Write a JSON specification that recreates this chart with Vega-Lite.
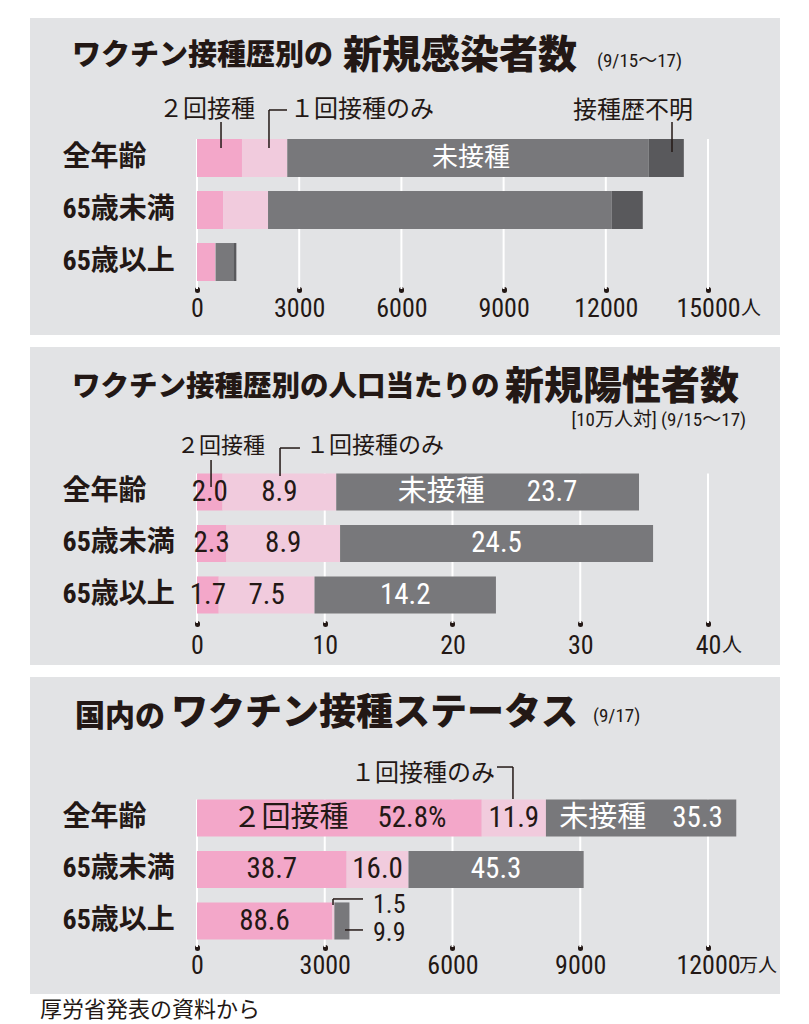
{
  "$schema": "https://vega.github.io/schema/vega-lite/v6.json",
  "padding": {"left": 30, "top": 18, "right": 0, "bottom": 8},
  "background": "#ffffff",
  "config": {"view": {"stroke": null}, "font": "Noto Sans CJK JP"},
  "title": {"text": "厚労省発表の資料から", "orient": "bottom", "anchor": "start", "fontSize": 22, "font": "Noto Sans CJK JP", "fontWeight": "normal", "color": "#231815", "offset": 6, "dx": 10},
  "spacing": 12,
  "vconcat": [
    {
      "width": 750, "height": 317,
      "view": {"fill": "#e2e3e5", "stroke": null},
      "layer": [
        {
          "data": {"values": [{"t": 0}, {"t": 3000}, {"t": 6000}, {"t": 9000}, {"t": 12000}, {"t": 15000}]},
          "mark": {"type": "rule", "color": "#ffffff", "strokeWidth": 2, "yOffset": -19, "y2Offset": 27},
          "encoding": {
            "x": {"field": "t", "type": "quantitative", "title": null,
              "scale": {"domain": [-4902, 17113], "nice": false, "zero": false},
              "axis": {"values": [0, 3000, 6000, 9000, 12000, 15000], "format": "d", "grid": false, "domain": false, "ticks": true, "tickSize": 1, "tickWidth": 5, "tickCap": "round", "tickColor": "#231815", "labelFont": "Roboto Condensed, Noto Sans CJK JP", "labelFontSize": 26, "labelColor": "#231815", "labelPadding": 5, "offset": -46, "title": null, "labelFlush": false, "labelOverlap": false}},
            "y": {"datum": "全年齢", "type": "nominal", "title": null,
              "scale": {"domain": ["title", "label", "全年齢", "65歳未満", "65歳以上"], "range": [17, 263], "paddingInner": 0.27, "paddingOuter": 0},
              "axis": {"orient": "left", "offset": -32, "domain": false, "ticks": false, "tickSize": 0, "labelPadding": 0, "labelAlign": "left", "labelFont": "Roboto Condensed, Noto Sans CJK JP", "labelFontSize": 28, "labelFontWeight": "bold", "labelColor": "#231815", "labelExpr": "datum.value == 'title' || datum.value == 'label' ? '' : datum.label", "title": null, "labelLimit": 0}},
            "y2": {"datum": "65歳以上"}
          }
        },
        {
          "data": {"values": [
            {"row": "全年齢", "s": "2回接種", "o": 1, "v": 1320},
            {"row": "全年齢", "s": "1回接種のみ", "o": 2, "v": 1330},
            {"row": "全年齢", "s": "未接種", "o": 3, "v": 10610},
            {"row": "全年齢", "s": "接種歴不明", "o": 4, "v": 1030},
            {"row": "65歳未満", "s": "2回接種", "o": 1, "v": 765},
            {"row": "65歳未満", "s": "1回接種のみ", "o": 2, "v": 1320},
            {"row": "65歳未満", "s": "未接種", "o": 3, "v": 10090},
            {"row": "65歳未満", "s": "接種歴不明", "o": 4, "v": 910},
            {"row": "65歳以上", "s": "2回接種", "o": 1, "v": 530},
            {"row": "65歳以上", "s": "1回接種のみ", "o": 2, "v": 15},
            {"row": "65歳以上", "s": "未接種", "o": 3, "v": 520},
            {"row": "65歳以上", "s": "接種歴不明", "o": 4, "v": 90}
          ]},
          "mark": {"type": "bar"},
          "encoding": {
            "x": {"field": "v", "type": "quantitative", "stack": "zero", "title": null},
            "y": {"field": "row", "type": "nominal", "title": null},
            "color": {"field": "s", "type": "nominal", "legend": null, "scale": {"domain": ["2回接種", "1回接種のみ", "未接種", "接種歴不明"], "range": ["#f3a7c9", "#f1cbdd", "#78787b", "#59595c"]}},
            "order": {"field": "o", "type": "quantitative"}
          }
        },
        {
          "data": {"values": [{"t": "ワクチン接種歴別の"}]},
          "mark": {"type": "text", "align": "left", "baseline": "middle", "font": "Noto Sans CJK JP", "fontSize": 29, "fontWeight": 900, "color": "#231815", "dy": 2},
          "encoding": {"x": {"datum": -3669}, "y": {"datum": "title"}, "text": {"field": "t"}}
        },
        {
          "data": {"values": [{"t": "新規感染者数"}]},
          "mark": {"type": "text", "align": "left", "baseline": "middle", "font": "Noto Sans CJK JP", "fontSize": 39, "fontWeight": 900, "color": "#231815", "dy": 2},
          "encoding": {"x": {"datum": 4286}, "y": {"datum": "title"}, "text": {"field": "t"}}
        },
        {
          "data": {"values": [{"t": "(9/15～17)"}]},
          "mark": {"type": "text", "align": "left", "baseline": "middle", "font": "Roboto Condensed, Noto Sans CJK JP", "fontSize": 19, "color": "#231815", "dy": 7},
          "encoding": {"x": {"datum": 11742}, "y": {"datum": "title"}, "text": {"field": "t"}}
        },
        {
          "data": {"values": [{"t": "２回接種"}]},
          "mark": {"type": "text", "align": "center", "baseline": "middle", "font": "Noto Sans CJK JP", "fontSize": 24, "color": "#231815", "dy": 4},
          "encoding": {"x": {"datum": 294}, "y": {"datum": "label"}, "text": {"field": "t"}}
        },
        {
          "data": {"values": [{"t": "１回接種のみ"}]},
          "mark": {"type": "text", "align": "left", "baseline": "middle", "font": "Noto Sans CJK JP", "fontSize": 24, "color": "#231815", "dy": 4},
          "encoding": {"x": {"datum": 2730}, "y": {"datum": "label"}, "text": {"field": "t"}}
        },
        {
          "data": {"values": [{"t": "接種歴不明"}]},
          "mark": {"type": "text", "align": "center", "baseline": "middle", "font": "Noto Sans CJK JP", "fontSize": 24, "color": "#231815", "dy": 5},
          "encoding": {"x": {"datum": 12798}, "y": {"datum": "label"}, "text": {"field": "t"}}
        },
        {
          "data": {"values": [{"t": "未接種"}]},
          "mark": {"type": "text", "align": "center", "baseline": "middle", "font": "Noto Sans CJK JP", "fontSize": 26, "color": "#ffffff"},
          "encoding": {"x": {"datum": 8043}, "y": {"datum": "全年齢"}, "text": {"field": "t"}}
        },
        {
          "data": {"values": [{"t": "人"}]},
          "mark": {"type": "text", "align": "left", "baseline": "middle", "font": "Noto Sans CJK JP", "fontSize": 20, "color": "#231815", "dx": 33, "dy": 47},
          "encoding": {"x": {"datum": 15000}, "y": {"datum": "65歳以上"}, "text": {"field": "t"}}
        },
        {
          "data": {"values": [{}]},
          "mark": {"type": "rule", "color": "#231815", "strokeWidth": 1.5, "yOffset": 16, "y2Offset": -10},
          "encoding": {"x": {"datum": 705}, "y": {"datum": "label"}, "y2": {"datum": "全年齢"}}
        },
        {
          "data": {"values": [{}]},
          "mark": {"type": "rule", "color": "#231815", "strokeWidth": 1.5, "yOffset": 4, "y2Offset": -10},
          "encoding": {"x": {"datum": 2113}, "y": {"datum": "label"}, "y2": {"datum": "全年齢"}}
        },
        {
          "data": {"values": [{}]},
          "mark": {"type": "rule", "color": "#231815", "strokeWidth": 1.5, "yOffset": 4},
          "encoding": {"x": {"datum": 2113}, "x2": {"datum": 2642}, "y": {"datum": "label"}}
        },
        {
          "data": {"values": [{}]},
          "mark": {"type": "rule", "color": "#231815", "strokeWidth": 1.5, "yOffset": 16, "y2Offset": -6},
          "encoding": {"x": {"datum": 13943}, "y": {"datum": "label"}, "y2": {"datum": "全年齢"}}
        }
      ]
    },
    {
      "width": 750, "height": 318,
      "view": {"fill": "#e2e3e5", "stroke": null},
      "layer": [
        {
          "data": {"values": [{"t": 0}, {"t": 10}, {"t": 20}, {"t": 30}, {"t": 40}]},
          "mark": {"type": "rule", "color": "#ffffff", "strokeWidth": 2, "yOffset": -18.5, "y2Offset": 28},
          "encoding": {
            "x": {"field": "t", "type": "quantitative", "title": null,
              "scale": {"domain": [-13.072, 45.636], "nice": false, "zero": false},
              "axis": {"values": [0, 10, 20, 30, 40], "format": "d", "grid": false, "domain": false, "ticks": true, "tickSize": 1, "tickWidth": 5, "tickCap": "round", "tickColor": "#231815", "labelFont": "Roboto Condensed, Noto Sans CJK JP", "labelFontSize": 26, "labelColor": "#231815", "labelPadding": 8, "offset": -42, "title": null, "labelFlush": false, "labelOverlap": false}},
            "y": {"datum": "全年齢", "type": "nominal", "title": null,
              "scale": {"domain": ["title", "label", "全年齢", "65歳未満", "65歳以上"], "range": [23.5, 266.5], "paddingInner": 0.28, "paddingOuter": 0},
              "axis": {"orient": "left", "offset": -32, "domain": false, "ticks": false, "tickSize": 0, "labelPadding": 0, "labelAlign": "left", "labelFont": "Roboto Condensed, Noto Sans CJK JP", "labelFontSize": 28, "labelFontWeight": "bold", "labelColor": "#231815", "labelExpr": "datum.value == 'title' || datum.value == 'label' ? '' : datum.label", "title": null, "labelLimit": 0}},
            "y2": {"datum": "65歳以上"}
          }
        },
        {
          "data": {"values": [
            {"row": "全年齢", "s": "2回接種", "o": 1, "v": 2.0, "lab": "2.0"},
            {"row": "全年齢", "s": "1回接種のみ", "o": 2, "v": 8.9, "lab": "8.9"},
            {"row": "全年齢", "s": "未接種", "o": 3, "v": 23.7, "lab": "未接種　\u200223.7"},
            {"row": "65歳未満", "s": "2回接種", "o": 1, "v": 2.3, "lab": "2.3"},
            {"row": "65歳未満", "s": "1回接種のみ", "o": 2, "v": 8.9, "lab": "8.9"},
            {"row": "65歳未満", "s": "未接種", "o": 3, "v": 24.5, "lab": "24.5"},
            {"row": "65歳以上", "s": "2回接種", "o": 1, "v": 1.7, "lab": "1.7"},
            {"row": "65歳以上", "s": "1回接種のみ", "o": 2, "v": 7.5, "lab": "7.5"},
            {"row": "65歳以上", "s": "未接種", "o": 3, "v": 14.2, "lab": "14.2"}
          ]},
          "layer": [
            {
              "mark": {"type": "bar"},
              "encoding": {
                "x": {"field": "v", "type": "quantitative", "stack": "zero", "title": null},
                "y": {"field": "row", "type": "nominal", "title": null},
                "color": {"field": "s", "type": "nominal", "legend": null, "scale": {"domain": ["2回接種", "1回接種のみ", "未接種"], "range": ["#f3a7c9", "#f1cbdd", "#78787b"]}},
                "order": {"field": "o", "type": "quantitative"}
              }
            },
            {
              "mark": {"type": "text", "align": "center", "baseline": "middle", "font": "Roboto Condensed, Noto Sans CJK JP", "fontSize": 29},
              "encoding": {
                "x": {"field": "v", "type": "quantitative", "stack": "zero", "bandPosition": 0.5, "title": null},
                "y": {"field": "row", "type": "nominal", "title": null},
                "detail": {"field": "s"},
                "text": {"field": "lab"},
                "color": {"condition": {"test": "datum.s == '未接種'", "value": "#ffffff"}, "value": "#231815"},
                "order": {"field": "o", "type": "quantitative"}
              }
            }
          ]
        },
        {
          "data": {"values": [{"t": "ワクチン接種歴別の人口当たりの"}]},
          "mark": {"type": "text", "align": "left", "baseline": "middle", "font": "Noto Sans CJK JP", "fontSize": 28.5, "fontWeight": 900, "color": "#231815", "dy": -2},
          "encoding": {"x": {"datum": -9.785}, "y": {"datum": "title"}, "text": {"field": "t"}}
        },
        {
          "data": {"values": [{"t": "新規陽性者数"}]},
          "mark": {"type": "text", "align": "left", "baseline": "middle", "font": "Noto Sans CJK JP", "fontSize": 39, "fontWeight": 900, "color": "#231815", "dy": -2},
          "encoding": {"x": {"datum": 24.11}, "y": {"datum": "title"}, "text": {"field": "t"}}
        },
        {
          "data": {"values": [{"t": "[10万人対] (9/15～17)"}]},
          "mark": {"type": "text", "align": "right", "baseline": "middle", "font": "Roboto Condensed, Noto Sans CJK JP", "fontSize": 19, "color": "#231815", "dy": 31},
          "encoding": {"x": {"datum": 42.98}, "y": {"datum": "title"}, "text": {"field": "t"}}
        },
        {
          "data": {"values": [{"t": "２回接種"}]},
          "mark": {"type": "text", "align": "center", "baseline": "middle", "font": "Noto Sans CJK JP", "fontSize": 22, "color": "#231815", "dy": 5.5},
          "encoding": {"x": {"datum": 1.88}, "y": {"datum": "label"}, "text": {"field": "t"}}
        },
        {
          "data": {"values": [{"t": "１回接種のみ"}]},
          "mark": {"type": "text", "align": "left", "baseline": "middle", "font": "Noto Sans CJK JP", "fontSize": 23, "color": "#231815", "dy": 5.5},
          "encoding": {"x": {"datum": 8.53}, "y": {"datum": "label"}, "text": {"field": "t"}}
        },
        {
          "data": {"values": [{"t": "人"}]},
          "mark": {"type": "text", "align": "left", "baseline": "middle", "font": "Noto Sans CJK JP", "fontSize": 20, "color": "#231815", "dx": 14, "dy": 51},
          "encoding": {"x": {"datum": 40}, "y": {"datum": "65歳以上"}, "text": {"field": "t"}}
        },
        {
          "data": {"values": [{}]},
          "mark": {"type": "rule", "color": "#231815", "strokeWidth": 1.5, "yOffset": 19.5, "y2Offset": -5},
          "encoding": {"x": {"datum": 1.10}, "y": {"datum": "label"}, "y2": {"datum": "全年齢"}}
        },
        {
          "data": {"values": [{}]},
          "mark": {"type": "rule", "color": "#231815", "strokeWidth": 1.5, "yOffset": 7.5, "y2Offset": -16},
          "encoding": {"x": {"datum": 6.5}, "y": {"datum": "label"}, "y2": {"datum": "全年齢"}}
        },
        {
          "data": {"values": [{}]},
          "mark": {"type": "rule", "color": "#231815", "strokeWidth": 1.5, "yOffset": 7.5},
          "encoding": {"x": {"datum": 6.5}, "x2": {"datum": 8.06}, "y": {"datum": "label"}}
        }
      ]
    },
    {
      "width": 750, "height": 317,
      "view": {"fill": "#e2e3e5", "stroke": null},
      "layer": [
        {
          "data": {"values": [{"t": 0}, {"t": 3000}, {"t": 6000}, {"t": 9000}, {"t": 12000}]},
          "mark": {"type": "rule", "color": "#ffffff", "strokeWidth": 2, "yOffset": -18.5, "y2Offset": 26},
          "encoding": {
            "x": {"field": "t", "type": "quantitative", "title": null,
              "scale": {"domain": [-3921.7, 13690.8], "nice": false, "zero": false},
              "axis": {"values": [0, 3000, 6000, 9000, 12000], "format": "d", "grid": false, "domain": false, "ticks": true, "tickSize": 1, "tickWidth": 5, "tickCap": "round", "tickColor": "#231815", "labelFont": "Roboto Condensed, Noto Sans CJK JP", "labelFontSize": 26, "labelColor": "#231815", "labelPadding": 4, "offset": -47, "title": null, "labelFlush": false, "labelOverlap": false}},
            "y": {"datum": "全年齢", "type": "nominal", "title": null,
              "scale": {"domain": ["title", "label", "全年齢", "65歳未満", "65歳以上"], "range": [19.5, 262.5], "paddingInner": 0.28, "paddingOuter": 0},
              "axis": {"orient": "left", "offset": -32, "domain": false, "ticks": false, "tickSize": 0, "labelPadding": 0, "labelAlign": "left", "labelFont": "Roboto Condensed, Noto Sans CJK JP", "labelFontSize": 28, "labelFontWeight": "bold", "labelColor": "#231815", "labelExpr": "datum.value == 'title' || datum.value == 'label' ? '' : datum.label", "title": null, "labelLimit": 0}},
            "y2": {"datum": "65歳以上"}
          }
        },
        {
          "data": {"values": [
            {"row": "全年齢", "s": "2回接種", "o": 1, "v": 6687, "lab": "２回接種　52.8%"},
            {"row": "全年齢", "s": "1回接種のみ", "o": 2, "v": 1507, "lab": "11.9"},
            {"row": "全年齢", "s": "未接種", "o": 3, "v": 4470, "lab": "未接種\u2002\u200235.3"},
            {"row": "65歳未満", "s": "2回接種", "o": 1, "v": 3514, "lab": "38.7"},
            {"row": "65歳未満", "s": "1回接種のみ", "o": 2, "v": 1453, "lab": "16.0"},
            {"row": "65歳未満", "s": "未接種", "o": 3, "v": 4113, "lab": "45.3"},
            {"row": "65歳以上", "s": "2回接種", "o": 1, "v": 3172, "lab": "88.6"},
            {"row": "65歳以上", "s": "1回接種のみ", "o": 2, "v": 54, "lab": ""},
            {"row": "65歳以上", "s": "未接種", "o": 3, "v": 354, "lab": ""}
          ]},
          "layer": [
            {
              "mark": {"type": "bar"},
              "encoding": {
                "x": {"field": "v", "type": "quantitative", "stack": "zero", "title": null},
                "y": {"field": "row", "type": "nominal", "title": null},
                "color": {"field": "s", "type": "nominal", "legend": null, "scale": {"domain": ["2回接種", "1回接種のみ", "未接種"], "range": ["#f3a7c9", "#f1cbdd", "#78787b"]}},
                "order": {"field": "o", "type": "quantitative"}
              }
            },
            {
              "mark": {"type": "text", "align": "center", "baseline": "middle", "font": "Roboto Condensed, Noto Sans CJK JP", "fontSize": 29},
              "encoding": {
                "x": {"field": "v", "type": "quantitative", "stack": "zero", "bandPosition": 0.5, "title": null},
                "y": {"field": "row", "type": "nominal", "title": null},
                "detail": {"field": "s"},
                "text": {"field": "lab"},
                "color": {"condition": {"test": "datum.s == '未接種'", "value": "#ffffff"}, "value": "#231815"},
                "order": {"field": "o", "type": "quantitative"}
              }
            }
          ]
        },
        {
          "data": {"values": [{"t": "国内の"}]},
          "mark": {"type": "text", "align": "left", "baseline": "middle", "font": "Noto Sans CJK JP", "fontSize": 30, "fontWeight": 900, "color": "#231815", "dy": 2},
          "encoding": {"x": {"datum": -2865}, "y": {"datum": "title"}, "text": {"field": "t"}}
        },
        {
          "data": {"values": [{"t": "ワクチン接種ステータス"}]},
          "mark": {"type": "text", "align": "left", "baseline": "middle", "font": "Noto Sans CJK JP", "fontSize": 37, "fontWeight": 900, "color": "#231815", "dy": -1},
          "encoding": {"x": {"datum": -610}, "y": {"datum": "title"}, "text": {"field": "t"}}
        },
        {
          "data": {"values": [{"t": "(9/17)"}]},
          "mark": {"type": "text", "align": "left", "baseline": "middle", "font": "Roboto Condensed, Noto Sans CJK JP", "fontSize": 19, "color": "#231815", "dy": 1},
          "encoding": {"x": {"datum": 9299}, "y": {"datum": "title"}, "text": {"field": "t"}}
        },
        {
          "data": {"values": [{"t": "１回接種のみ"}]},
          "mark": {"type": "text", "align": "right", "baseline": "middle", "font": "Noto Sans CJK JP", "fontSize": 24, "color": "#231815", "dy": 7.5},
          "encoding": {"x": {"datum": 6998}, "y": {"datum": "label"}, "text": {"field": "t"}}
        },
        {
          "data": {"values": [{"t": "1.5"}]},
          "mark": {"type": "text", "align": "left", "baseline": "middle", "font": "Roboto Condensed, Noto Sans CJK JP", "fontSize": 26, "color": "#231815", "dy": -16},
          "encoding": {"x": {"datum": 4133}, "y": {"datum": "65歳以上"}, "text": {"field": "t"}}
        },
        {
          "data": {"values": [{"t": "9.9"}]},
          "mark": {"type": "text", "align": "left", "baseline": "middle", "font": "Roboto Condensed, Noto Sans CJK JP", "fontSize": 26, "color": "#231815", "dy": 12},
          "encoding": {"x": {"datum": 4133}, "y": {"datum": "65歳以上"}, "text": {"field": "t"}}
        },
        {
          "data": {"values": [{"t": "万人"}]},
          "mark": {"type": "text", "align": "left", "baseline": "middle", "font": "Noto Sans CJK JP", "fontSize": 19, "color": "#231815", "dx": 31, "dy": 45},
          "encoding": {"x": {"datum": 12000}, "y": {"datum": "65歳以上"}, "text": {"field": "t"}}
        },
        {
          "data": {"values": [{}]},
          "mark": {"type": "rule", "color": "#231815", "strokeWidth": 1.5, "yOffset": 0.5},
          "encoding": {"x": {"datum": 7045}, "x2": {"datum": 7420}, "y": {"datum": "label"}}
        },
        {
          "data": {"values": [{}]},
          "mark": {"type": "rule", "color": "#231815", "strokeWidth": 1.5, "yOffset": 0.5, "y2Offset": -19},
          "encoding": {"x": {"datum": 7420}, "y": {"datum": "label"}, "y2": {"datum": "全年齢"}}
        },
        {
          "data": {"values": [{}]},
          "mark": {"type": "rule", "color": "#231815", "strokeWidth": 1.5, "yOffset": -22},
          "encoding": {"x": {"datum": 3194}, "x2": {"datum": 3898}, "y": {"datum": "65歳以上"}}
        },
        {
          "data": {"values": [{}]},
          "mark": {"type": "rule", "color": "#231815", "strokeWidth": 1.5, "yOffset": -22, "y2Offset": -16},
          "encoding": {"x": {"datum": 3194}, "y": {"datum": "65歳以上"}, "y2": {"datum": "65歳以上"}}
        },
        {
          "data": {"values": [{}]},
          "mark": {"type": "rule", "color": "#231815", "strokeWidth": 1.5, "yOffset": 9},
          "encoding": {"x": {"datum": 3475}, "x2": {"datum": 3898}, "y": {"datum": "65歳以上"}}
        }
      ]
    }
  ]
}
